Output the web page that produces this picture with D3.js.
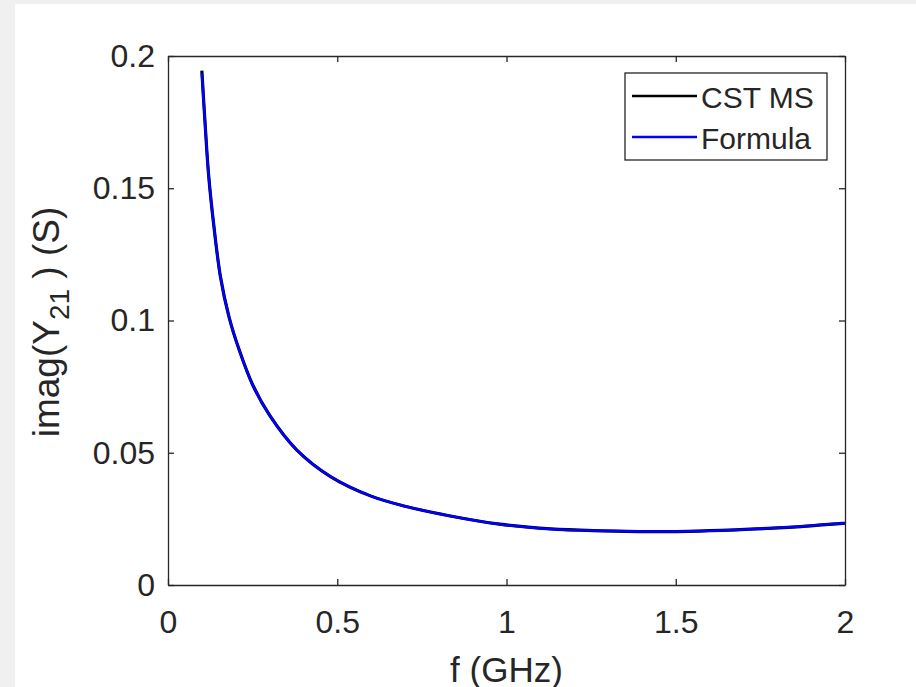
<!DOCTYPE html>
<html>
<head>
<meta charset="utf-8">
<script src="https://cdn.jsdelivr.net/npm/d3@7"></script>
<style>
  body { margin: 0; background: #f0f0f0; }
  #container { width: 916px; height: 687px; overflow: hidden; }
  text { font-family: "Liberation Sans", Arial, Helvetica, sans-serif; fill: #262626; }
</style>
</head>
<body>
<div id="container"></div>
<script>
// values
var freq = [0.1, 0.11, 0.12, 0.135, 0.155, 0.18, 0.21, 0.25, 0.3, 0.38, 0.48, 0.6, 0.7, 0.83, 0.98, 1.13, 1.28, 1.42, 1.57, 1.72, 1.87, 2.0];
var cstMS = [0.1945, 0.1736, 0.155, 0.1363, 0.1165, 0.1015, 0.089, 0.0757, 0.0642, 0.0511, 0.041, 0.0336, 0.0298, 0.0262, 0.023, 0.0212, 0.0205, 0.0202, 0.0204, 0.0211, 0.0221, 0.0234];
var formula = [0.1935, 0.1736, 0.155, 0.1363, 0.1165, 0.1015, 0.089, 0.0757, 0.0642, 0.0511, 0.041, 0.0336, 0.0298, 0.0262, 0.023, 0.0212, 0.0205, 0.0202, 0.0204, 0.0211, 0.0221, 0.0234];
var xTicks = [0, 0.5, 1, 1.5, 2];
var yTicks = [0, 0.05, 0.1, 0.15, 0.2];
var seriesNames = ["CST MS", "Formula"];

var W = 916, H = 687;
// plot box (window.top is reserved, so use other names)
var boxLeft = 168, boxRight = 845, boxTop = 56, boxBottom = 585;

var svg = d3
  .select("#container")
  .append("svg")
  .attr("width", W)
  .attr("height", H);

// white figure area over grey window
svg.append("rect")
  .attr("x", 15).attr("y", 4)
  .attr("width", W - 15).attr("height", H - 4)
  .attr("fill", "#ffffff");

var xScale = d3.scaleLinear().domain([0, 2]).range([boxLeft, boxRight]);
var yScale = d3.scaleLinear().domain([0, 0.2]).range([boxBottom, boxTop]);

// curves
var line = d3.line()
  .x((d) => xScale(d[0]))
  .y((d) => yScale(d[1]))
  .curve(d3.curveCatmullRom.alpha(0.5));

svg.append("path")
  .datum(freq.map((f, i) => [f, cstMS[i]]))
  .attr("d", line)
  .attr("fill", "none")
  .attr("stroke", "#000000")
  .attr("stroke-width", 3.2);

svg.append("path")
  .datum(freq.map((f, i) => [f, formula[i]]))
  .attr("d", line)
  .attr("fill", "none")
  .attr("stroke", "#0000ff")
  .attr("stroke-width", 2.5);

// axes, ticks point inwards like matlab
var fmt = (d) => String(d);

svg.append("g")
  .attr("transform", "translate(0," + boxBottom + ")")
  .call(d3.axisBottom(xScale).tickValues(xTicks).tickFormat(fmt).tickSizeInner(-6).tickSizeOuter(0).tickPadding(25));

svg.append("g")
  .attr("transform", "translate(" + boxLeft + ",0)")
  .call(d3.axisLeft(yScale).tickValues(yTicks).tickFormat(fmt).tickSizeInner(-6).tickSizeOuter(0).tickPadding(13));

svg.append("g")
  .attr("transform", "translate(0," + boxTop + ")")
  .call(d3.axisTop(xScale).tickValues(xTicks).tickFormat("").tickSizeInner(-6).tickSizeOuter(0));

svg.append("g")
  .attr("transform", "translate(" + boxRight + ",0)")
  .call(d3.axisRight(yScale).tickValues(yTicks).tickFormat("").tickSizeInner(-6).tickSizeOuter(0));

svg.selectAll(".domain, .tick line")
  .attr("stroke", "#262626")
  .attr("stroke-width", 1.3);

svg.selectAll(".tick text")
  .style("font-size", "32px")
  .attr("fill", "#262626");

// axis labels
svg.append("text")
  .attr("x", (boxLeft + boxRight) / 2)
  .attr("y", 682)
  .attr("text-anchor", "middle")
  .style("font-size", "35px")
  .text("f (GHz)");

var yLab = svg.append("text")
  .attr("transform", "translate(59,322) rotate(-90)")
  .attr("text-anchor", "middle")
  .style("font-size", "37px");
yLab.append("tspan").text("imag(Y");
yLab.append("tspan").attr("dy", 10).style("font-size", "28px").text("21");
yLab.append("tspan").attr("dy", -10).text(" ) (S)");

// legend
var legend = svg.append("g");
legend.append("rect")
  .attr("x", 625).attr("y", 73)
  .attr("width", 202).attr("height", 87)
  .attr("fill", "#ffffff")
  .attr("stroke", "#262626")
  .attr("stroke-width", 1.3);

var legColors = ["#000000", "#0000ff"];
var legY = [96, 137];
seriesNames.forEach((name, i) => {
  legend.append("line")
    .attr("x1", 632).attr("x2", 697)
    .attr("y1", legY[i]).attr("y2", legY[i])
    .attr("stroke", legColors[i])
    .attr("stroke-width", 2.4);
  legend.append("text")
    .attr("x", 701)
    .attr("y", legY[i] + 12)
    .style("font-size", "30px")
    .attr("fill", "#000000")
    .text(name);
});
</script>
</body>
</html>
